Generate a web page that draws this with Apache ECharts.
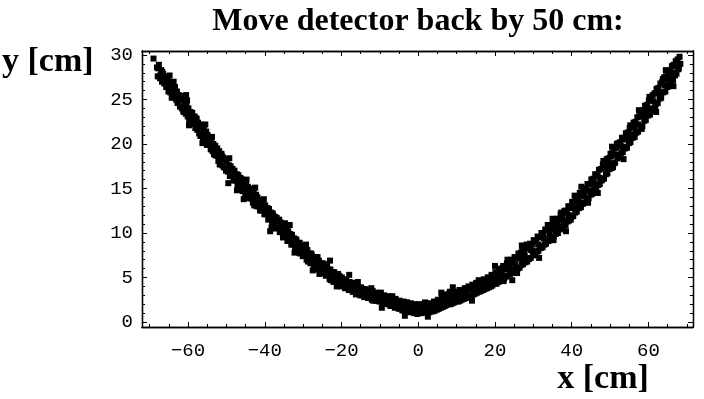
<!DOCTYPE html>
<html>
<head>
<meta charset="utf-8">
<script src="https://cdn.jsdelivr.net/npm/echarts@6/dist/echarts.min.js"></script>
<style>
  html, body { margin: 0; padding: 0; background: #fff; }
  #chart { width: 704px; height: 399px; }
</style>
</head>
<body>
<div id="chart"></div>
<script>
// Hit positions on the detector, x and y in cm.
const leftArm = [
  [-69.0,29.6],
  [-68.1,28.6],[-67.9,27.6],[-67.6,28.9],[-67.3,27.4],
  [-67.0,28.3],[-66.8,27.0],[-66.5,27.9],[-66.2,26.8],
  [-66.0,27.6],[-65.7,26.4],[-65.4,27.2],[-65.1,25.9],
  [-64.9,26.9],[-64.6,25.8],[-64.3,26.7],[-64.1,25.4],
  [-63.9,26.3],[-63.6,25.2],[-63.4,26.4],[-63.1,25.0],
  [-62.9,25.9],[-62.7,24.6],[-62.4,25.5],[-62.1,24.2],
  [-61.9,25.4],[-61.6,24.0],[-61.3,24.9],[-61.1,23.6],
  [-60.9,24.5],[-60.6,23.4],[-60.4,24.6],[-60.1,23.1],
  [-59.9,24.0],[-59.7,22.7],[-59.4,23.6],[-59.1,22.3],
  [-58.9,23.5],[-58.6,22.3],[-58.3,23.1],[-58.1,21.8],
  [-57.9,22.9],[-57.6,21.6],[-57.4,22.4],[-57.1,21.2],
  [-56.9,22.2],[-56.7,21.0],[-56.4,21.9],[-56.1,20.6],
  [-55.9,21.6],[-55.6,20.4],[-55.3,21.2],[-55.1,19.9],
  [-54.9,21.0],[-54.7,19.9],[-54.4,20.6],[-54.1,19.4],
  [-53.9,20.4],[-53.6,19.2],[-53.4,20.0],[-53.1,18.8],
  [-52.9,19.8],[-52.7,18.7],[-52.4,19.5],[-52.1,18.1],
  [-51.9,19.2],[-51.6,18.0],[-51.3,18.9],[-51.1,17.6],
  [-50.9,18.5],[-50.7,17.4],[-50.4,18.3],[-50.1,17.0],
  [-49.9,18.1],[-49.6,16.9],[-49.3,17.6],[-49.1,16.4],
  [-48.9,17.5],[-48.7,16.4],[-48.4,17.2],[-48.1,15.9],
  [-47.9,17.0],[-47.6,15.9],[-47.3,16.6],[-47.1,15.4],
  [-46.9,16.5],[-46.7,15.3],[-46.4,16.2],[-46.1,14.9],
  [-45.9,16.0],[-45.6,14.9],[-45.3,15.6],[-45.1,14.4],
  [-44.9,15.5],[-44.7,14.4],[-44.4,15.2],[-44.1,13.9],
  [-43.9,15.0],[-43.6,13.9],[-43.4,14.6],[-43.1,13.4],
  [-42.9,14.5],[-42.7,13.5],[-42.4,14.2],[-42.1,13.0],
  [-41.9,14.0],[-41.6,13.0],[-41.3,13.7],[-41.1,12.5],
  [-40.9,13.6],[-40.7,12.6],[-40.4,13.3],[-40.1,12.1],
  [-39.9,13.1],[-39.6,12.1],[-39.3,12.8],[-39.1,11.5],
  [-38.9,12.7],[-38.7,11.6],[-38.4,12.3],[-38.1,11.0],
  [-37.9,12.2],[-37.6,11.1],[-37.3,11.8],[-37.1,10.5],
  [-36.9,11.7],[-36.7,10.6],[-36.4,11.4],[-36.1,10.1],
  [-35.9,11.2],[-35.6,10.1],[-35.3,10.8],[-35.1,9.6],
  [-34.9,10.7],[-34.7,9.7],[-34.4,10.3],[-34.1,9.1],
  [-33.9,10.2],[-33.6,9.2],[-33.4,9.9],[-33.1,8.7],
  [-32.9,9.8],[-32.7,8.7],[-32.4,9.4],[-32.1,8.3],
  [-31.9,9.3],[-31.6,8.3],[-31.3,8.9],[-31.1,7.8],
  [-30.9,8.9],[-30.7,7.9],[-30.4,8.6],[-30.1,7.4],
  [-29.9,8.5],[-29.6,7.5],[-29.3,8.1],[-29.1,7.0],
  [-28.9,8.1],[-28.7,7.1],[-28.4,7.7],[-28.1,6.6],
  [-27.9,7.7],[-27.6,6.7],[-27.3,7.3],[-27.1,6.2],
  [-26.9,7.3],[-26.7,6.3],[-26.4,7.0],[-26.1,5.9],
  [-25.9,6.9],[-25.6,6.0],[-25.3,6.6],[-25.1,5.5],
  [-24.9,6.6],[-24.7,5.6],[-24.4,6.2],[-24.1,5.2],
  [-23.9,6.3],[-23.6,5.3],[-23.3,5.9],[-23.1,4.8],
  [-22.9,5.9],[-22.7,5.0],[-22.4,5.6],[-22.1,4.5],
  [-21.9,5.6],[-21.6,4.7],[-21.3,5.4],[-21.1,4.3],
  [-20.9,5.4],[-20.7,4.5],[-20.4,5.1],[-20.1,4.0]
];

const valley = [
  [-19.9,5.0],[-19.6,4.1],[-19.3,4.7],[-19.1,3.8],
  [-18.9,4.8],[-18.7,3.9],[-18.4,4.5],[-18.1,3.6],
  [-17.9,4.5],[-17.6,3.6],[-17.3,4.3],[-17.1,3.4],
  [-16.9,4.3],[-16.7,3.4],[-16.4,4.0],[-16.1,3.2],
  [-15.9,4.1],[-15.6,3.2],[-15.3,3.8],[-15.1,3.0],
  [-14.9,3.9],[-14.7,3.0],[-14.4,3.7],[-14.1,2.8],
  [-13.9,3.7],[-13.6,2.9],[-13.3,3.5],[-13.1,2.7],
  [-12.9,3.6],[-12.7,2.8],[-12.4,3.3],[-12.1,2.5],
  [-11.9,3.5],[-11.6,2.6],[-11.3,3.2],[-11.1,2.4],
  [-10.9,3.3],[-10.7,2.4],[-10.4,3.1],[-10.1,2.3],
  [-9.9,3.2],[-9.6,2.3],[-9.3,2.9],[-9.1,2.1],
  [-8.9,3.0],[-8.7,2.1],[-8.4,2.8],[-8.1,2.0],
  [-7.9,2.9],[-7.6,2.0],[-7.3,2.6],[-7.1,1.8],
  [-6.9,2.7],[-6.7,1.8],[-6.4,2.5],[-6.1,1.6],
  [-5.9,2.6],[-5.6,1.7],[-5.3,2.3],[-5.1,1.5],
  [-4.9,2.4],[-4.7,1.5],[-4.4,2.2],[-4.1,1.3],
  [-3.9,2.3],[-3.6,1.4],[-3.3,2.1],[-3.1,1.2],
  [-2.9,2.2],[-2.7,1.3],[-2.4,2.0],[-2.1,1.1],
  [-1.9,2.1],[-1.6,1.2],[-1.3,1.9],[-1.1,1.0],
  [-0.9,2.0],[-0.7,1.1],[-0.4,1.8],[-0.1,1.0],
  [0.1,2.0],[0.4,1.1],[0.6,1.8],[0.9,1.0],
  [1.1,2.0],[1.3,1.1],[1.6,1.9],[1.9,1.1],
  [2.1,2.1],[2.4,1.2],[2.6,1.9],[2.9,1.1],
  [3.1,2.1],[3.3,1.2],[3.6,2.0],[3.9,1.2],
  [4.1,2.3],[4.4,1.3],[4.6,2.1],[4.9,1.4],
  [5.1,2.5],[5.3,1.5],[5.6,2.3],[5.9,1.6],
  [6.1,2.7],[6.4,1.7],[6.6,2.6],[6.9,1.8],
  [7.1,3.0],[7.3,1.9],[7.6,2.8],[7.9,2.0],
  [8.1,3.2],[8.4,2.0],[8.6,3.0],[8.9,2.1],
  [9.1,3.3],[9.3,2.2],[9.6,3.1],[9.9,2.3],
  [10.1,3.4],[10.4,2.3],[10.6,3.2],[10.9,2.4],
  [11.1,3.6],[11.3,2.5],[11.6,3.4],[11.9,2.6],
  [12.1,3.8],[12.4,2.7],[12.6,3.6],[12.9,2.8],
  [13.1,4.0],[13.3,2.9],[13.6,3.8],[13.9,3.0],
  [14.1,4.2],[14.4,3.1],[14.6,4.0],[14.9,3.2],
  [15.1,4.4],[15.3,3.3],[15.6,4.2],[15.9,3.4],
  [16.1,4.6],[16.4,3.5],[16.6,4.4],[16.9,3.6],
  [17.1,4.8],[17.3,3.7],[17.6,4.6],[17.9,3.8],
  [18.1,5.0],[18.4,3.9],[18.6,4.9],[18.9,4.0],
  [19.1,5.3],[19.3,4.1],[19.6,5.1],[19.9,4.3]
];

const rightArm = [
  [20.1,5.6],[20.4,4.3],[20.6,5.5],[20.9,4.5],
  [21.1,6.0],[21.3,4.6],[21.6,5.8],[21.9,4.8],
  [22.1,6.3],[22.4,4.9],[22.6,6.1],[22.9,5.1],
  [23.1,6.6],[23.3,5.2],[23.6,6.5],[23.9,5.4],
  [24.1,7.0],[24.4,5.5],[24.6,6.8],[24.9,5.7],
  [25.1,7.3],[25.3,5.8],[25.6,7.2],[25.9,6.0],
  [26.1,7.7],[26.4,6.1],[26.6,7.5],[26.9,6.4],
  [27.1,8.0],[27.3,6.5],[27.6,7.9],[27.9,6.7],
  [28.1,8.4],[28.4,6.8],[28.6,8.3],[28.9,7.1],
  [29.1,8.8],[29.3,7.2],[29.6,8.7],[29.9,7.5],
  [30.1,9.2],[30.4,7.6],[30.6,9.1],[30.9,7.9],
  [31.1,9.6],[31.3,8.0],[31.6,9.5],[31.9,8.3],
  [32.1,10.0],[32.4,8.4],[32.6,9.9],[32.9,8.7],
  [33.1,10.4],[33.3,8.8],[33.6,10.3],[33.9,9.1],
  [34.1,10.8],[34.4,9.2],[34.6,10.7],[34.9,9.5],
  [35.1,11.2],[35.3,9.6],[35.6,11.1],[35.9,9.9],
  [36.1,11.6],[36.4,10.0],[36.6,11.6],[36.9,10.4],
  [37.1,12.1],[37.3,10.5],[37.6,12.0],[37.9,10.8],
  [38.1,12.5],[38.4,10.9],[38.6,12.5],[38.9,11.3],
  [39.1,13.0],[39.3,11.4],[39.6,13.0],[39.9,11.8],
  [40.1,13.5],[40.4,11.9],[40.6,13.5],[40.9,12.3],
  [41.1,14.0],[41.3,12.4],[41.6,14.0],[41.9,12.8],
  [42.1,14.5],[42.4,12.9],[42.6,14.5],[42.9,13.3],
  [43.1,15.0],[43.3,13.4],[43.6,15.0],[43.9,13.8],
  [44.1,15.5],[44.4,13.9],[44.6,15.5],[44.9,14.3],
  [45.1,16.0],[45.3,14.4],[45.6,16.1],[45.9,14.9],
  [46.1,16.6],[46.4,15.0],[46.6,16.6],[46.9,15.4],
  [47.1,17.1],[47.3,15.5],[47.6,17.2],[47.9,16.0],
  [48.1,17.7],[48.4,16.1],[48.6,17.8],[48.9,16.6],
  [49.1,18.3],[49.3,16.7],[49.6,18.4],[49.9,17.2],
  [50.1,18.9],[50.4,17.3],[50.6,19.0],[50.9,17.8],
  [51.1,19.5],[51.3,17.9],[51.6,19.6],[51.9,18.4],
  [52.1,20.1],[52.4,18.5],[52.6,20.2],[52.9,19.0],
  [53.1,20.7],[53.3,19.1],[53.6,20.7],[53.9,19.5],
  [54.1,21.2],[54.4,19.6],[54.6,21.3],[54.9,20.1],
  [55.1,21.8],[55.3,20.2],[55.6,21.9],[55.9,20.7],
  [56.1,22.4],[56.4,20.8],[56.6,22.5],[56.9,21.3],
  [57.1,23.0],[57.3,21.4],[57.6,23.1],[57.9,21.9],
  [58.1,23.6],[58.4,22.0],[58.6,23.8],[58.9,22.6],
  [59.1,24.3],[59.3,22.7],[59.6,24.4],[59.9,23.2],
  [60.1,24.9],[60.4,23.3],[60.6,25.0],[60.9,23.8],
  [61.1,25.5],[61.3,23.9],[61.6,25.7],[61.9,24.5],
  [62.1,26.2],[62.4,24.6],[62.6,26.3],[62.9,25.1],
  [63.1,26.8],[63.3,25.2],[63.6,27.0],[63.9,25.8],
  [64.1,27.5],[64.4,25.9],[64.6,27.6],[64.9,26.4],
  [65.1,28.1],[65.3,26.5],[65.6,28.3],[65.9,27.1],
  [66.1,28.7],[66.4,27.2],[66.6,28.9],[66.9,27.7],
  [67.1,29.3],[67.3,27.9],[67.6,29.5],[67.9,28.5],
  [68.1,29.8],[68.3,29.0]
];

// Hits in the middle of the band
const bandCore = [
  [-67.75,28.5],[-67.25,27.7],[-66.75,28.1],[-66.25,27.3],[-65.75,26.8],[-65.25,27.4],
  [-64.75,26.5],[-64.25,25.2],[-63.75,27.0],[-63.25,25.8],[-62.75,24.8],[-62.25,25.0],
  [-61.75,25.2],[-61.25,23.7],[-60.75,24.0],[-60.25,24.9],[-59.75,22.1],[-59.25,23.4],
  [-58.75,22.9],[-58.25,22.3],[-57.75,22.8],[-57.25,21.9],[-56.75,20.9],[-56.25,20.1],
  [-55.75,21.2],[-55.25,21.4],[-54.75,20.1],[-54.25,20.4],[-53.75,20.8],[-53.25,18.9],
  [-52.75,19.2],[-52.25,18.7],[-51.75,17.7],[-51.25,18.7],[-50.75,18.3],[-50.25,17.3],
  [-49.75,17.3],[-49.25,18.4],[-48.75,16.4],[-48.25,16.7],[-47.75,16.6],[-47.25,14.8],
  [-46.75,15.9],[-46.25,16.1],[-45.75,14.7],[-45.25,15.0],[-44.75,16.0],[-44.25,14.2],
  [-43.75,14.5],[-43.25,13.9],[-42.75,13.1],[-42.25,14.3],[-41.75,13.4],[-41.25,12.6],
  [-40.75,13.4],[-40.25,13.8],[-39.75,12.2],[-39.25,12.5],[-38.75,11.9],[-38.25,10.6],
  [-37.75,11.9],[-37.25,11.3],[-36.75,10.6],[-36.25,11.5],[-35.75,10.7],[-35.25,9.5],
  [-34.75,11.1],[-34.25,9.7],[-33.75,9.3],[-33.25,9.7],[-32.75,9.2],[-32.25,7.8],
  [-31.75,9.2],[-31.25,8.3],[-30.75,7.7],[-30.25,8.3],[-29.75,7.8],[-29.25,8.7],
  [-28.75,6.8],[-28.25,7.4],[-27.75,7.5],[-27.25,6.5],[-26.75,6.5],[-26.25,7.3],
  [-25.75,5.4],[-25.25,6.4],[-24.75,6.0],[-24.25,5.6],[-23.75,6.5],[-23.25,5.5],
  [-22.75,4.7],[-22.25,5.5],[-21.75,5.2],[-21.25,4.0],[-20.75,5.2],[-20.25,4.6],
  [-19.75,4.6],[-19.25,4.1],[-18.75,4.6],[-18.25,4.1],[-17.75,3.8],[-17.25,4.4],
  [-16.75,3.9],[-16.25,3.1],[-15.75,4.5],[-15.25,3.6],[-14.75,3.1],[-14.25,3.4],
  [-13.75,3.6],[-13.25,2.8],[-12.75,3.1],[-12.25,3.8],[-11.75,2.4],[-11.25,3.2],
  [-10.75,3.0],[-10.25,2.6],[-9.75,3.3],[-9.25,2.6],[-8.75,2.2],[-8.25,2.8],
  [-7.75,2.5],[-7.25,1.8],[-6.75,2.9],[-6.25,2.3],[-5.75,1.9],[-5.25,2.0],
  [-4.75,2.2],[-4.25,1.4],[-3.75,1.8],[-3.25,2.2],[-2.75,1.5],[-2.25,1.8],
  [-1.75,2.0],[-1.25,1.2],[-0.75,1.6],[-0.25,0.9],[0.25,1.8],[0.75,1.5],
  [1.25,1.3],[1.75,2.2],[2.25,1.7],[2.75,1.2],[3.25,1.8],[3.75,1.6],
  [4.25,2.2],[4.75,1.9],[5.25,1.5],[5.75,2.4],[6.25,2.3],[6.75,3.1],
  [7.25,2.2],[7.75,2.9],[8.25,3.4],[8.75,2.3],[9.25,2.9],[9.75,3.3],
  [10.25,2.7],[10.75,3.6],[11.25,3.3],[11.75,2.7],[12.25,3.2],[12.75,3.8],
  [13.25,2.8],[13.75,3.7],[14.25,4.0],[14.75,3.6],[15.25,3.9],[15.75,4.7],
  [16.25,3.7],[16.75,4.4],[17.25,4.2],[17.75,3.8],[18.25,5.0],[18.75,4.6],
  [19.25,4.4],[19.75,5.1],[20.25,5.1],[20.75,4.7],[21.25,5.8],[21.75,5.3],
  [22.25,4.6],[22.75,5.9],[23.25,7.0],[23.75,6.0],[24.25,5.7],[24.75,6.7],
  [25.25,6.4],[25.75,5.5],[26.25,7.1],[26.75,7.8],[27.25,6.9],[27.75,7.4],
  [28.25,8.7],[28.75,7.1],[29.25,8.1],[29.75,8.0],[30.25,7.5],[30.75,9.0],
  [31.25,8.7],[31.75,8.5],[32.25,9.8],[32.75,9.4],[33.25,8.9],[33.75,10.9],
  [34.25,9.8],[34.75,10.4],[35.25,9.2],[35.75,10.6],[36.25,11.2],[36.75,10.7],
  [37.25,12.3],[37.75,11.4],[38.25,11.1],[38.75,12.3],[39.25,12.0],[39.75,11.5],
  [40.25,12.8],[40.75,14.2],[41.25,12.8],[41.75,13.5],[42.25,14.2],[42.75,13.3],
  [43.25,14.1],[43.75,14.7],[44.25,13.4],[44.75,14.8],[45.25,16.0],[45.75,15.6],
  [46.25,15.3],[46.75,16.4],[47.25,16.2],[47.75,15.9],[48.25,18.1],[48.75,17.4],
  [49.25,17.2],[49.75,17.8],[50.25,18.6],[50.75,17.4],[51.25,18.8],[51.75,20.0],
  [52.25,18.8],[52.75,19.8],[53.25,19.7],[53.75,20.5],[54.25,19.6],[54.75,20.8],
  [55.25,22.1],[55.75,21.1],[56.25,21.9],[56.75,21.3],[57.25,22.2],[57.75,23.1],
  [58.25,21.7],[58.75,23.3],[59.25,23.9],[59.75,23.7],[60.25,25.3],[60.75,24.0],
  [61.25,24.8],[61.75,24.1],[62.25,25.9],[62.75,25.7],[63.25,25.5],[63.75,27.3],
  [64.25,26.6],[64.75,27.3],[65.25,26.6],[65.75,27.7],[66.25,28.8],[66.75,28.0],
  [67.25,28.8],[67.75,28.4]
];

// Stray hits along the band's edges
const strays = [
  [-64.8,27.7],[-60.5,25.5],[-55.5,22.2],[-49.5,15.6],[-45.5,13.8],[-42.5,15.1],
  [-38.6,10.2],[-33.5,10.9],[-27.5,5.8],[-23.0,6.9],[-18.0,5.3],[-9.5,1.6],
  [-3.5,0.7],[2.5,0.6],[6.0,3.3],[9.0,3.9],[14.0,2.4],[20.0,6.3],[24.5,4.7],
  [27.0,8.6],[31.5,7.2],[35.0,11.6],[38.5,10.2],[42.5,15.2],[46.8,14.5],
  [50.5,19.7],[53.5,18.3],[57.5,23.8],[62.0,23.6],[64.5,28.3],[66.5,26.5]
];

// Tick positions and labels
const xLabelValues = [-60, -40, -20, 0, 20, 40, 60];
const xMinorTicks = [-70,-65,-60,-55,-50,-45,-40,-35,-30,-25,-20,-15,-10,-5,0,5,10,15,20,25,30,35,40,45,50,55,60,65,70];
const yLabelValues = [0, 5, 10, 15, 20, 25, 30];
const yMinorTicks = [0,1,2,3,4,5,6,7,8,9,10,11,12,13,14,15,16,17,18,19,20,21,22,23,24,25,26,27,28,29,30];

const X_MIN = -72, X_MAX = 71.6;
const Y_MIN = -0.56, Y_MAX = 30.45;

const tickFont = { fontFamily: '"Liberation Mono", "DejaVu Sans Mono", monospace', fontSize: 19, color: '#000' };
const fmt = v => (v < 0 ? '\u2212' + Math.abs(v) : String(v));
const titleFont = 'bold 32px "Liberation Serif", "Times New Roman", serif';
const axisNameFont = 'bold 34px "Liberation Serif", "Times New Roman", serif';

function frameAxis(kind, pos, ticks, len, labels) {
  return {
    type: 'value',
    position: pos,
    min: kind === 'x' ? X_MIN : Y_MIN,
    max: kind === 'x' ? X_MAX : Y_MAX,
    axisLine: { show: true, onZero: false, lineStyle: { color: '#000', width: 1.3 } },
    axisTick: { show: true, inside: true, length: len, customValues: ticks, lineStyle: { color: '#000', width: 1 } },
    axisLabel: labels
      ? Object.assign({ show: true, customValues: labels, formatter: fmt, margin: kind === 'x' ? 14 : 9 }, tickFont)
      : { show: false },
    splitLine: { show: false }
  };
}

const chart = echarts.init(document.getElementById('chart'), null, { renderer: 'canvas' });
chart.setOption({
  animation: false,
  backgroundColor: '#fff',
  grid: { left: 142, right: 11, top: 51, bottom: 72, containLabel: false },
  xAxis: [
    frameAxis('x', 'bottom', xMinorTicks, 3, xLabelValues),
    frameAxis('x', 'bottom', xLabelValues, 5, null),
    frameAxis('x', 'top', xMinorTicks, 3, null),
    frameAxis('x', 'top', xLabelValues, 5, null)
  ],
  yAxis: [
    frameAxis('y', 'left', yMinorTicks, 3, yLabelValues),
    frameAxis('y', 'left', yLabelValues, 5, null),
    frameAxis('y', 'right', yMinorTicks, 3, null),
    frameAxis('y', 'right', yLabelValues, 5, null)
  ],
  graphic: [
    { type: 'text', x: 418, y: 22, style: { text: 'Move detector back by 50 cm:', fill: '#000',
      textAlign: 'center', textVerticalAlign: 'middle', font: titleFont } },
    { type: 'text', x: 2, y: 62, style: { text: 'y [cm]', fill: '#000', textVerticalAlign: 'middle', font: axisNameFont } },
    { type: 'text', x: 603, y: 379, style: { text: 'x [cm]', fill: '#000', textAlign: 'center',
      textVerticalAlign: 'middle', font: axisNameFont } }
  ],
  series: [{
    type: 'scatter',
    xAxisIndex: 0,
    yAxisIndex: 0,
    data: leftArm.concat(valley, rightArm, bandCore, strays),
    symbol: 'rect',
    symbolSize: 6,
    itemStyle: { color: '#000', opacity: 1 },
    silent: true
  }]
});
</script>
</body>
</html>
